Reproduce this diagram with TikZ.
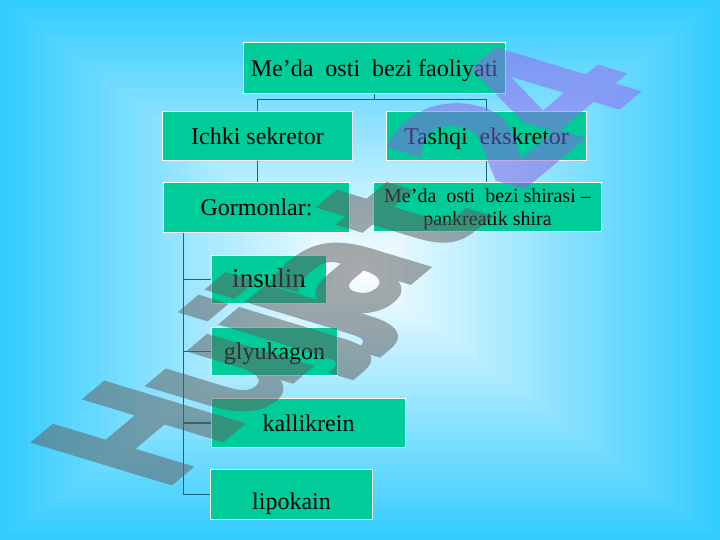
\documentclass[tikz,border=0pt]{standalone}
\usepackage{fontspec}
\setmainfont{Liberation Serif}
\newfontfamily\wmfont{DejaVu Sans Bold}[FakeBold=1.5]
\definecolor{bgc}{RGB}{51,204,255}
\definecolor{boxc}{RGB}{0,204,153}
\definecolor{linec}{RGB}{20,105,115}
\definecolor{wmA}{RGB}{95,95,95}
\definecolor{wmB}{RGB}{135,100,225}
\definecolor{wmC}{RGB}{150,100,235}
\newcommand\wmlet[5]{%
  \pgfmathsetmacro\wmxa{1.072*#5}\pgfmathsetmacro\wmxb{0.900*#5}%
  \pgfmathsetmacro\wmxc{-1.847*#5}\pgfmathsetmacro\wmxd{0.560*#5}%
  \begin{scope}[cm={\wmxa,\wmxb,\wmxc,\wmxd,({161+0.766*#3},{493-0.643*#3})}]
    \node[wm,text=#4] (#1) at (0,0) {#2};
  \end{scope}}
\begin{document}
\begin{tikzpicture}[x=1pt,y=-1pt,
  boxbase/.style={draw=white, line width=1.5pt, fill=boxc, inner sep=0pt,
    text=black, align=center, font=\fontsize{24}{28}\selectfont},
  box/.style={boxbase, text height=16.5pt, text depth=0pt},
  conn/.style={draw=linec, line width=1.4pt},
  wm/.style={font=\wmfont\bfseries\fontsize{100}{100}\selectfont,
    anchor=base west, inner sep=0pt, transform shape}]
\useasboundingbox (0,0) rectangle (720,540);
% background: rectangular gradient
\fill[bgc] (0,0) rectangle (720,540);
\foreach \i in {1,...,39}{
  \pgfmathtruncatemacro\p{100-2.5*\i}
  \fill[bgc!\p!white] ({360-9*(40-\i)},{270-6.75*(40-\i)}) rectangle ({360+9*(40-\i)},{270+6.75*(40-\i)});
}
% boxes
\node[box, minimum width=262pt, minimum height=51pt] (top) at (374.5,68) {Me’da\ \ osti\ \ bezi faoliyati};
\node[box, minimum width=190pt, minimum height=49pt] (ichki) at (257.5,136) {Ichki sekretor};
\node[box, minimum width=200pt, minimum height=49pt] (tashqi) at (486.5,136) {Tashqi\ \ ekskretor};
\node[box, minimum width=186pt, minimum height=50pt] (gorm) at (256.5,207.5) {Gormonlar:};
\node[boxbase, text depth=0pt, minimum width=228pt, minimum height=49pt,
  font=\fontsize{20}{23}\selectfont] (shira) at (487.5,207) {Me’da\ \ osti\ \ bezi shirasi –\\pankreatik shira};
\node[box, minimum width=115pt, minimum height=48pt, font=\fontsize{27}{30}\selectfont] (insulin) at (269,279.5) {insulin};
\node[box, minimum width=126pt, minimum height=48pt] (glyuk) at (274.5,351.5) {glyukagon};
\node[box, minimum width=194pt, minimum height=49pt] (kalli) at (308.5,423) {kallikrein};
\node[box, minimum width=162pt, minimum height=50pt] (lipo) at (291.5,494.5) {\raisebox{-6.5pt}{lipokain}};
% connectors
\coordinate (j1) at (374.5,99.5);
\draw[conn] (top.south) -- (j1);
\draw[conn] (ichki.north) |- (j1) -| (tashqi.north);
\draw[conn] (ichki.south) -- (ichki.south |- gorm.north);
\draw[conn] (tashqi.south) -- (tashqi.south |- shira.north);
\coordinate (tr) at ([xshift=20.5pt]gorm.south west);
\draw[conn] (tr) |- (lipo.west);
\draw[conn] (tr |- insulin.west) -- (insulin.west);
\draw[conn] (tr |- glyuk.west) -- (glyuk.west);
\draw[conn] (tr |- kalli.west) -- (kalli.west);
% watermark
\begin{scope}[transparency group, opacity=0.53]
\wmlet{wm1}{H}{0}{wmA}{1.03}
\wmlet{wm2}{u}{106}{wmA}{1.03}
\wmlet{wm3}{j}{201}{wmA}{1.03}
\wmlet{wm4}{j}{236}{wmA}{1.03}
\wmlet{wm5}{a}{264}{wmA}{1.04}
\wmlet{wm6}{t}{366}{wmA}{1.04}
\wmlet{wm7}{2}{462}{wmB}{1.05}
\wmlet{wm8}{4}{543}{wmC}{1.06}
\end{scope}
\end{tikzpicture}
\end{document}
